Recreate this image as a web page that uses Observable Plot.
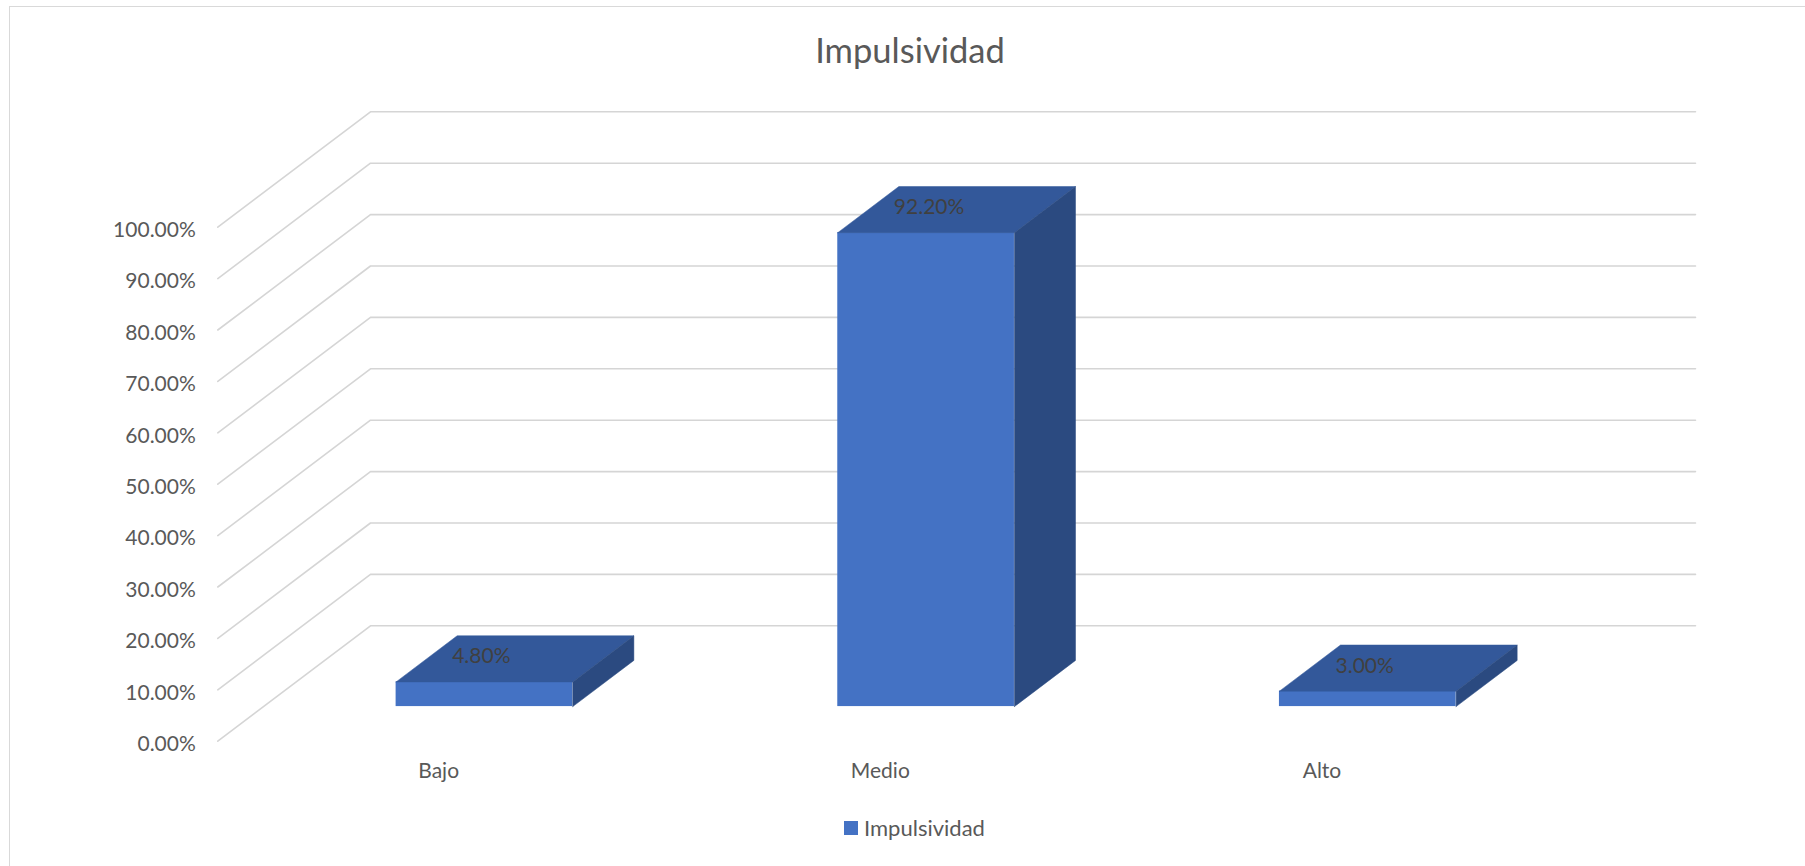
<!DOCTYPE html>
<html><head><meta charset="utf-8">
<script src="https://cdn.jsdelivr.net/npm/d3@7"></script>
<script src="https://cdn.jsdelivr.net/npm/@observablehq/plot@0.6"></script>
<style>
html,body{margin:0;padding:0;background:#fff;width:1805px;height:866px;overflow:hidden;font-family:Lato,"Open Sans",sans-serif;}
#frame{position:absolute;left:9px;top:6px;width:1830px;height:900px;border:1px solid #d9d9d9;box-sizing:border-box;}
#chart{position:absolute;left:0;top:0;}
#title{position:absolute;left:0;width:1820px;top:29px;text-align:center;font-size:34.5px;color:#595959;font-family:Lato,sans-serif;}
#legend{position:absolute;left:844px;top:811px;}
#legend svg{margin-right:6px !important;}
</style></head><body>
<div id="frame"></div>
<div id="chart"></div>
<div id="title">Impulsividad</div>
<div id="legend"></div>
<script>
// ---- data ----
const categories = ["Bajo", "Medio", "Alto"];
const values = [0.048, 0.922, 0.030];
const seriesName = "Impulsividad";
const yTicks = [0, 0.1, 0.2, 0.3, 0.4, 0.5, 0.6, 0.7, 0.8, 0.9, 1.0];

// ---- styling / projection constants ----
const FRONT = "#4472C4", TOP = "#33589A", SIDE = "#2B4A80", GRID = "#d5d5d5";
const DX = 0.3457;   // oblique depth offset, in category units
const DY = 0.2245;   // oblique depth offset, in value units
const D0 = 0.3, D1 = 0.7;   // bar depth span (fraction of wall depth)
const BW = 0.4;             // bar width (fraction of band)
const fmt = d3.format(".2%");

const rows = categories.map((c, i) => ({c, i, v: values[i]}));

// gridlines: front diagonal + back wall horizontal
const gridPts = yTicks.flatMap(t => [
  {t, x: 0, y: t},
  {t, x: DX, y: t + DY},
  {t, x: categories.length + DX, y: t + DY}
]);

// bar faces
const faces = [];
rows.forEach(r => {
  const xl = r.i + (1 - BW) / 2, xr = xl + BW;
  const P = (x, y, d) => ({x: x + d * DX, y: y + d * DY});
  faces.push({key: r.c + "-top", kind: "top",
    pts: [P(xl, r.v, D0), P(xr, r.v, D0), P(xr, r.v, D1), P(xl, r.v, D1), P(xl, r.v, D0)]});
  faces.push({key: r.c + "-side", kind: "side",
    pts: [P(xr, 0, D0), P(xr, r.v, D0), P(xr, r.v, D1), P(xr, 0, D1), P(xr, 0, D0)]});
});
const facePts = faces.flatMap(f => f.pts.map(p => ({...p, key: f.key, kind: f.kind})));

const xl = r => r.i + (1 - BW) / 2;

const chart = Plot.plot({
  width: 1805, height: 866,
  marginLeft: 217.3, marginRight: 262.7, marginTop: 226.7, marginBottom: 125.3,
  style: {fontFamily: "Lato, 'Open Sans', sans-serif", fontSize: "21px", color: "#595959", background: "transparent", overflow: "visible"},
  x: {domain: [0, categories.length], axis: null},
  y: {domain: [0, 1], axis: null},
  marks: [
    Plot.line(gridPts, {x: "x", y: "y", z: "t", stroke: GRID, strokeWidth: 1.6}),
    Plot.axisY(yTicks, {tickSize: 0, tickPadding: 22, tickFormat: fmt, dy: 3, fontSize: 21, fill: "#595959", label: null}),
    Plot.rect(rows, {
      x1: r => xl(r) + D0 * DX, x2: r => xl(r) + BW + D0 * DX,
      y1: D0 * DY, y2: r => r.v + D0 * DY,
      fill: FRONT
    }),
    Plot.line(facePts.filter(d => d.kind === "top"), {x: "x", y: "y", z: "key", fill: TOP, stroke: TOP, strokeWidth: 0.5}),
    Plot.line(facePts.filter(d => d.kind === "side"), {x: "x", y: "y", z: "key", fill: SIDE, stroke: SIDE, strokeWidth: 0.5}),
    Plot.text(rows, {x: r => xl(r) + D1 * DX, y: r => r.v + D1 * DY, text: r => fmt(r.v),
      textAnchor: "start", dx: -5, dy: 21, fill: "#404040", fontSize: 21}),
    Plot.text(rows, {x: r => r.i + 0.5, y: 0, text: "c", dy: 30, fill: "#595959", fontSize: 21})
  ]
});
document.getElementById("chart").appendChild(chart);

const leg = Plot.legend({
  color: {type: "categorical", domain: [seriesName], range: [FRONT]},
  swatchSize: 14,
  style: {fontSize: "22px", fontFamily: "Lato, 'Open Sans', sans-serif", color: "#595959"}
});
document.getElementById("legend").appendChild(leg);
</script>
</body></html>
